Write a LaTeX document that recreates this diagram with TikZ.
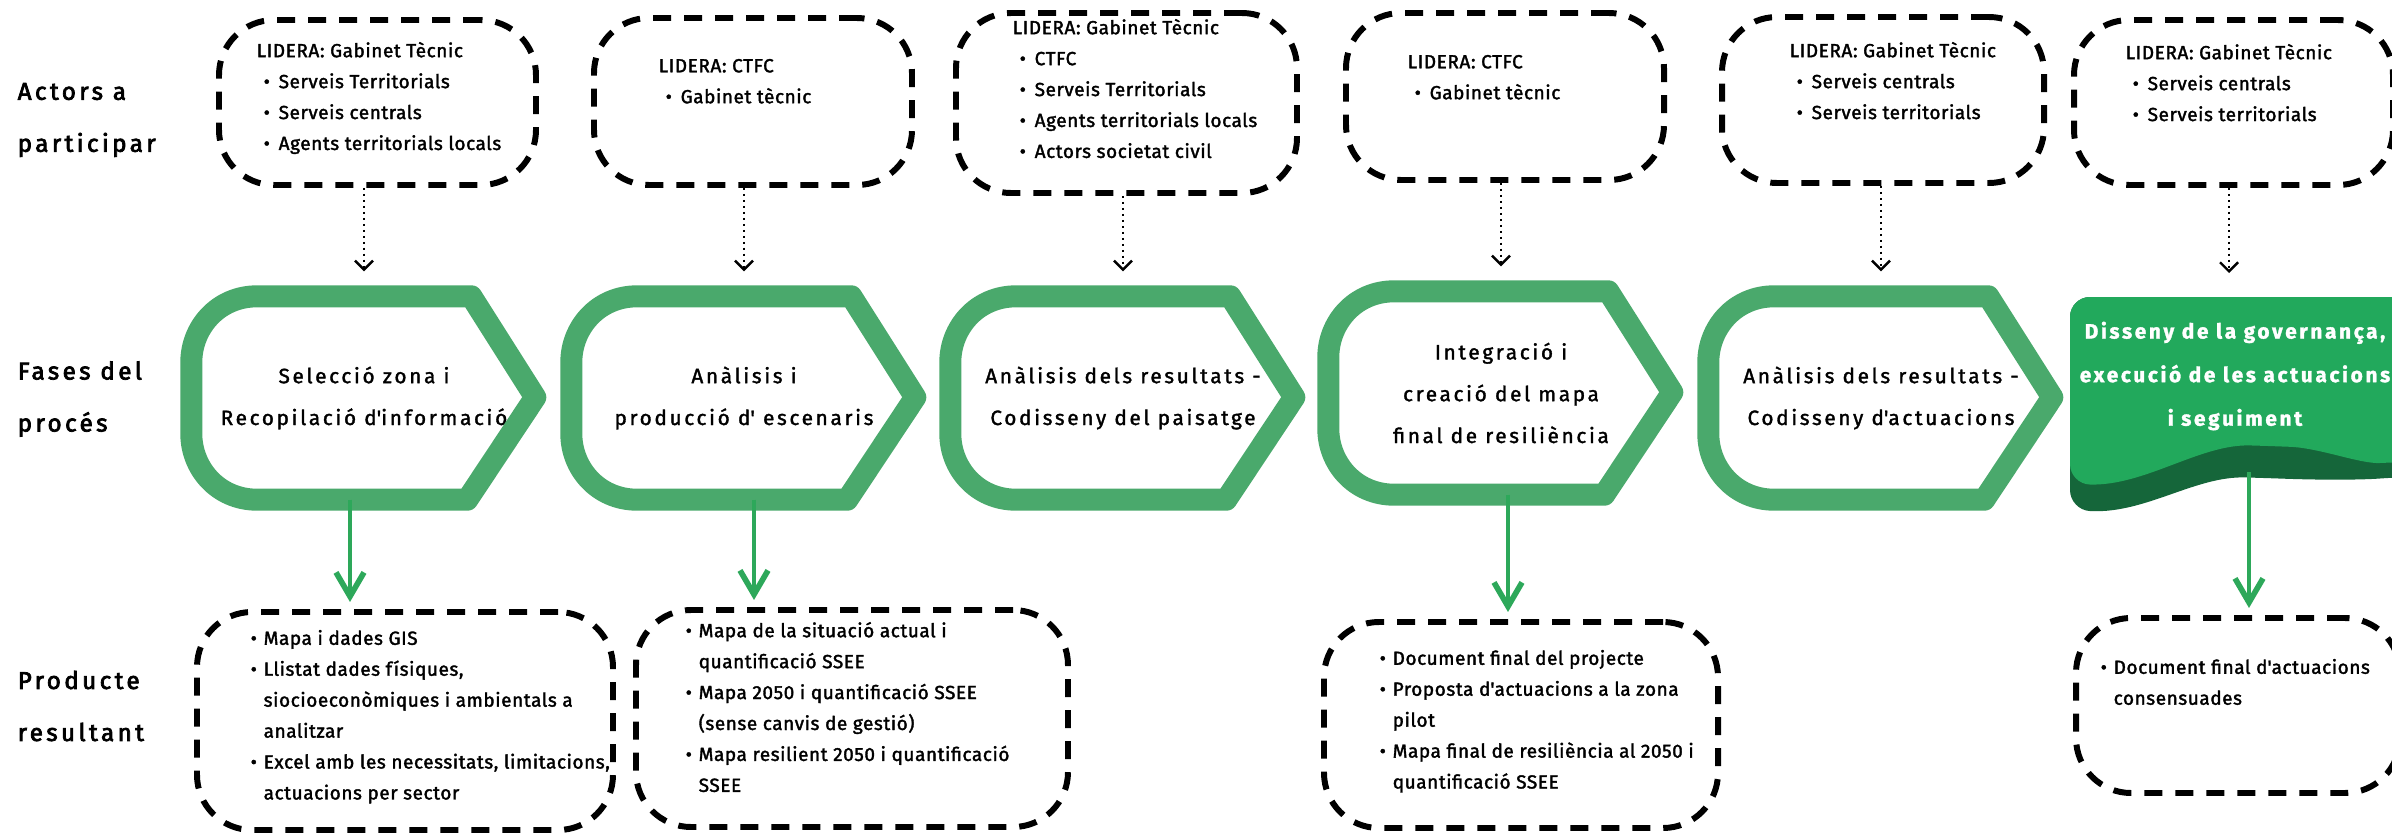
\documentclass[tikz,border=0pt]{standalone}
\usepackage{fontspec}
\setmainfont{Fira Sans}
\newfontfamily\boxfont[LetterSpace=3,FakeBold=1.8]{Fira Sans}
\newfontfamily\phasefont[LetterSpace=13,FakeBold=1.6]{Fira Sans}
\newfontfamily\rowfont[LetterSpace=14,FakeBold=3.0]{Fira Sans}
\usetikzlibrary{positioning,arrows.meta,calc}
\definecolor{phasegreen}{HTML}{4AA96C}
\definecolor{lastgreen}{HTML}{22A95C}
\definecolor{shadowgreen}{HTML}{15663A}
\definecolor{arrowgreen}{HTML}{2DA85A}
\newcommand{\itm}{\hspace*{0.07cm}\makebox[0.15cm][l]{\textbullet}}
\newcommand{\pitm}{\makebox[0.13cm][l]{\textbullet}}
\newcommand{\pcnt}{\hspace*{0.13cm}}
\newcommand{\apos}{\textquotesingle}
\tikzset{
  dashbox/.style={draw, line width=1.7pt, dash pattern=on 0.18cm off 0.13cm, rounded corners=0.55cm, inner sep=0pt},
  boxtext/.style={anchor=north west, align=left, inner sep=0pt, font=\boxfont\fontsize{5.4}{8.8}\selectfont, execute at begin node=\strut},
  phasenode/.style={minimum width=3.44cm, minimum height=2.02cm, align=center, inner sep=0pt, font=\phasefont\fontsize{5.9}{11.9}\selectfont},
  lastnode/.style={align=center, inner sep=0pt, text=white, font=\phasefont\bfseries\fontsize{5.9}{12.4}\selectfont},
  rowlabel/.style={anchor=west, align=left, inner sep=0pt, font=\rowfont\fontsize{6.9}{14.8}\selectfont},
  phaseline/.style={draw=phasegreen, line width=0.22cm, line join=round},
  dotarrow/.style={densely dotted, line width=0.7pt, -{Straight Barb[length=0.9mm,width=1.8mm]}},
  grnarrow/.style={arrowgreen, line width=1.1pt, shorten >=2pt, -{Straight Barb[length=2.4mm,width=2.8mm,line width=1.6pt]}}
}
\begin{document}
\begin{tikzpicture}[x=1cm,y=1cm]
  \useasboundingbox (0,0) rectangle (23.92,-8.34);
  \clip (0,0) rectangle (23.92,-8.34);
  \fill[white] (0,0) rectangle (23.92,-8.34);

  % row labels
  \node[rowlabel] (lbact) at (0.17,-1.20) {Actors a\\participar};
  \node[rowlabel] (lbfase) at (0.17,-3.99) {Fases del\\procés};
  \node[rowlabel] (lbprod) at (0.17,-7.06) {Producte\\resultant};

  % actors
  \node[dashbox, minimum width=3.17cm, minimum height=1.65cm] (act1) at (3.775,-1.025) {};
  \node[dashbox, minimum width=3.18cm, minimum height=1.67cm] (act2) at (7.53,-1.015) {};
  \node[dashbox, minimum width=3.41cm, minimum height=1.80cm] (act3) at (11.265,-1.03) {};
  \node[dashbox, minimum width=3.18cm, minimum height=1.67cm] (act4) at (15.05,-0.965) {};
  \node[dashbox, minimum width=3.22cm, minimum height=1.66cm] (act5) at (18.83,-1.00) {};
  \node[dashbox, minimum width=3.19cm, minimum height=1.65cm] (act6) at (22.335,-1.025) {};
  \node[boxtext] (act1txt) at (2.56,-0.413) {LIDERA: Gabinet Tècnic\\\itm Serveis Territorials\\\itm Serveis centrals\\\itm Agents territorials locals};
  \node[boxtext] (act2txt) at (6.58,-0.583) {LIDERA: CTFC\\\itm Gabinet tècnic};
  \node[boxtext] (act3txt) at (10.12,-0.183) {LIDERA: Gabinet Tècnic\\\itm CTFC\\\itm Serveis Territorials\\\itm Agents territorials locals\\\itm Actors societat civil};
  \node[boxtext] (act4txt) at (14.07,-0.543) {LIDERA: CTFC\\\itm Gabinet tècnic};
  \node[boxtext] (act5txt) at (17.89,-0.413) {LIDERA: Gabinet Tècnic\\\itm Serveis centrals\\\itm Serveis territorials};
  \node[boxtext] (act6txt) at (21.25,-0.433) {LIDERA: Gabinet Tècnic\\\itm Serveis centrals\\\itm Serveis territorials};

  % phases
  \node[phasenode] (ph1) at (3.64,-3.98) {Selecció zona i\\Recopilació d\apos informació};
  \node[phasenode] (ph2) at (7.44,-3.98) {Anàlisis i\\producció d\apos{} escenaris};
  \node[phasenode] (ph3) at (11.23,-3.98) {Anàlisis dels resultats -\\Codisseny del paisatge};
  \node[phasenode] (ph4) at (15.01,-3.93) {Integració i\\creació del mapa\\final de resiliència};
  \node[phasenode] (ph5) at (18.81,-3.98) {Anàlisis dels resultats -\\Codisseny d\apos actuacions};
  \foreach \n in {ph1,ph2,ph3,ph4,ph5}
    \draw[phaseline] ($(\n.north west)+(0.66,0)$) -- ($(\n.north west)+(2.80,0)$) -- ($(\n.north west)+(3.44,-1.01)$)
      -- ($(\n.south west)+(2.76,0)$) -- ($(\n.south west)+(0.66,0)$)
      .. controls ($(\n.south west)+(0.26,0)$) and ($(\n.south west)+(0,0.32)$) .. ($(\n.south west)+(0,0.66)$)
      -- ($(\n.north west)+(0,-0.66)$)
      .. controls ($(\n.north west)+(0,-0.32)$) and ($(\n.north west)+(0.26,0)$) .. cycle;

  % last phase
  \fill[shadowgreen, rounded corners=0.2cm] (20.70,-2.97) -- (24.2,-2.97) -- (24.2,-4.77) -- (24.0,-4.77)
    .. controls (23.6,-4.80) and (23.2,-4.80) .. (22.65,-4.78)
    .. controls (21.95,-4.76) and (21.45,-5.14) .. (20.70,-5.10) -- cycle;
  \fill[lastgreen, rounded corners=0.2cm] (20.70,-2.97) -- (24.2,-2.97) -- (24.2,-4.62) -- (24.0,-4.62)
    .. controls (23.6,-4.64) and (23.2,-4.48) .. (22.70,-4.46)
    .. controls (22.0,-4.44) and (21.45,-4.86) .. (20.70,-4.84) -- cycle;
  \node[lastnode] (ph6) at (22.35,-3.76) {Disseny de la governança,\\execució de les actuacions\\i seguiment};
  \coordinate (ph6top) at (22.29,-2.97);
  \coordinate (ph6out) at (22.49,-4.72);

  % products
  \node[dashbox, minimum width=4.16cm, minimum height=2.18cm] (prod1) at (4.05,-7.21) {};
  \node[dashbox, minimum width=4.32cm, minimum height=2.17cm] (prod2) at (8.52,-7.185) {};
  \node[dashbox, minimum width=3.94cm, minimum height=2.06cm] (prod3) at (15.21,-7.25) {};
  \node[dashbox, minimum width=3.24cm, minimum height=1.75cm] (prod4) at (22.38,-7.055) {};
  \node[boxtext] (prod1txt) at (2.50,-6.293) {\pitm Mapa i dades GIS\\\pitm Llistat dades físiques,\\\pcnt siocioeconòmiques i ambientals a\\\pcnt analitzar\\\pitm Excel amb les necessitats, limitacions,\\\pcnt actuacions per sector};
  \node[boxtext] (prod2txt) at (6.85,-6.213) {\pitm Mapa de la situació actual i\\\pcnt quantificació SSEE\\\pitm Mapa 2050 i quantificació SSEE\\\pcnt (sense canvis de gestió)\\\pitm Mapa resilient 2050 i quantificació\\\pcnt SSEE};
  \node[boxtext] (prod3txt) at (13.79,-6.493) {\pitm Document final del projecte\\\pitm Proposta d\apos actuacions a la zona\\\pcnt pilot\\\pitm Mapa final de resiliència al 2050 i\\\pcnt quantificació SSEE};
  \node[boxtext] (prod4txt) at (21.00,-6.583) {\pitm Document final d\apos actuacions\\\pcnt consensuades};

  % connectors
  \draw[dotarrow] (act1.south -| ph1.north) -- ([yshift=0.25cm]ph1.north);
  \draw[dotarrow] (act2.south -| ph2.north) -- ([yshift=0.25cm]ph2.north);
  \draw[dotarrow] (act3.south -| ph3.north) -- ([yshift=0.25cm]ph3.north);
  \draw[dotarrow] (act4.south -| ph4.north) -- ([yshift=0.25cm]ph4.north);
  \draw[dotarrow] (act5.south -| ph5.north) -- ([yshift=0.25cm]ph5.north);
  \draw[dotarrow] (act6.south -| ph6top) -- ([yshift=0.24cm]ph6top);
  \draw[grnarrow] ([xshift=-0.14cm]ph1.south) -- ([xshift=-0.14cm]ph1.south |- prod1.north);
  \draw[grnarrow] ([xshift=0.10cm]ph2.south) -- ([xshift=0.10cm]ph2.south |- prod2.north);
  \draw[grnarrow] ([xshift=0.07cm]ph4.south) -- ([xshift=0.07cm]ph4.south |- prod3.north);
  \draw[grnarrow] (ph6out) -- (ph6out |- prod4.north);
\end{tikzpicture}
\end{document}
